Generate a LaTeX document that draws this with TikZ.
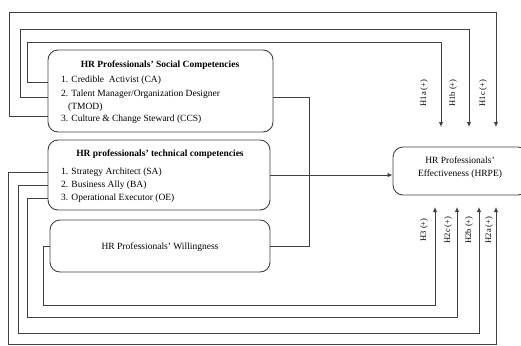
\documentclass[tikz,border=0pt]{standalone}
\usepackage{fontspec}
\setmainfont{Liberation Serif}
\usetikzlibrary{arrows.meta}
\begin{document}
\begin{tikzpicture}[x=1pt,y=-1pt,
  box/.style={draw=black!75, line width=0.9pt, rounded corners=10pt, inner sep=0pt},
  conn/.style={draw=black!75, line width=0.9pt},
  arr/.style={conn, -{Latex[length=5pt,width=4.5pt]}},
  txt/.style={font=\fontsize{9.5}{11}\selectfont, inner sep=0pt, anchor=west},
  ttl/.style={font=\bfseries\fontsize{9.5}{11}\selectfont, inner sep=0pt},
  hyp/.style={font=\fontsize{8.5}{10}\selectfont, rotate=90, inner sep=0pt}]
\useasboundingbox (0,0) rectangle (521,345);
% boxes
\node[box, minimum width=225pt, minimum height=82pt] (social) at (160.5,91) {};
\node[box, minimum width=222pt, minimum height=70pt] (tech) at (159,175) {};
\node[box, minimum width=220pt, minimum height=52pt] (will) at (160,246) {};
\node[box, minimum width=135pt, minimum height=48pt] (hrpe) at (460.5,171) {};
% texts
\node[ttl] (s0) at (160,65) {HR Professionals' Social Competencies};
\node[txt] (s1) at (61,80) {1. Credible \ Activist (CA)};
\node[txt] (s2) at (61,94) {2. Talent Manager/Organization Designer};
\node[txt] (s3) at (68,107) {(TMOD)};
\node[txt] (s4) at (61,119) {3. Culture \& Change Steward (CCS)};
\node[ttl] (t0) at (160,154) {HR professionals' technical competencies};
\node[txt] (t1) at (61,172) {1. Strategy Architect (SA)};
\node[txt] (t2) at (61,185) {2. Business Ally (BA)};
\node[txt] (t3) at (61,198) {3. Operational Executor (OE)};
\node[font=\fontsize{9.5}{11}\selectfont, inner sep=0pt] (w0) at (160,247) {HR Professionals' Willingness};
\node[font=\fontsize{9.5}{11}\selectfont, inner sep=0pt] (e1) at (460,160) {HR Professionals'};
\node[font=\fontsize{9.5}{11}\selectfont, inner sep=0pt] (e2) at (460,174) {Effectiveness (HRPE)};
% free ends
\coordinate (a1) at (441,127);
\coordinate (b1) at (469,127);
\coordinate (c1) at (496,127);
\coordinate (a2) at (496,207);
\coordinate (b2) at (479,207);
\coordinate (c2) at (457,207);
\coordinate (h3) at (435,207);
% H1 connectors
\draw[arr] ([yshift=9pt]social.west) -| (27,42) -| (a1);
\draw[arr] ([yshift=-6pt]social.west) -| (20,29) -| (b1);
\draw[arr] ([yshift=-25pt]social.west) -| (9,12) -| (c1);
% H2/H3 connectors
\draw[arr] (will.west) -| (43,305) -| (h3);
\draw[arr] ([yshift=-23pt]tech.west) -| (27,317) -| (c2);
\draw[arr] ([yshift=-10pt]tech.west) -| (18,333) -| (b2);
\draw[arr] ([yshift=3pt]tech.west) -| (8,344) -| (a2);
% social to willingness
\draw[conn] ([yshift=-6pt]social.east) -| (309,246) -- (will.east);
% main arrow
\draw[arr] (tech.east) -- (hrpe.west |- tech.east);
% labels
\node[hyp] (l1) at (424,93) {H1a (+)};
\node[hyp] (l2) at (453,93) {H1b (+)};
\node[hyp] (l3) at (483,93) {H1c (+)};
\node[hyp] (l4) at (424,230) {H3 (+)};
\node[hyp] (l5) at (448,230) {H2c (+)};
\node[hyp] (l6) at (469,230) {H2b (+)};
\node[hyp] (l7) at (489,230) {H2a (+)};
\end{tikzpicture}
\end{document}
